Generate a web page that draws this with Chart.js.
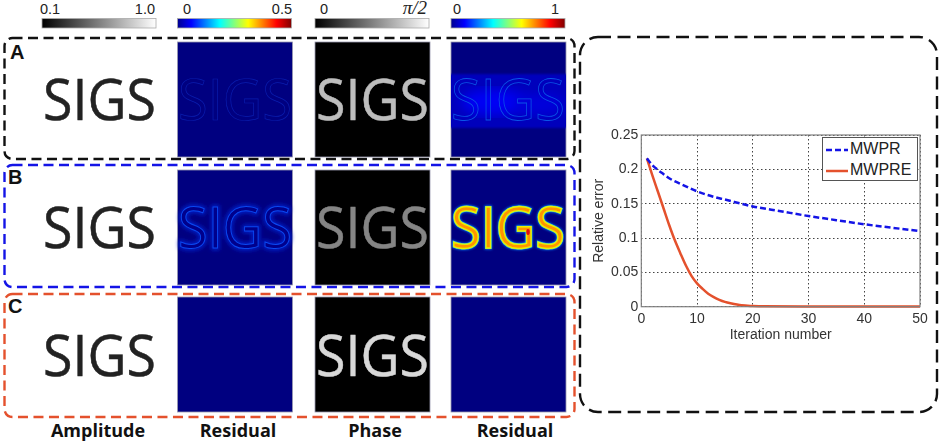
<!DOCTYPE html>
<html lang="en">
<head>
<meta charset="UTF-8">
<title>MWPR vs MWPRE</title>
<script src="https://cdn.jsdelivr.net/npm/chart.js"></script>
<style>
    html, body { margin: 0; padding: 0; background: #fff; overflow: hidden; }
    #figure { position: absolute; left: 0; top: 0; width: 941px; height: 444px; }
    #chart { position: absolute; left: 580px; top: 110px; }
    #legend {
        position: absolute; left: 822px; top: 137px; width: 94px; height: 42px;
        border: 1px solid #555; background: #fff; color: #222;
        font: 16px "Liberation Sans", sans-serif;
    }
    #legend div { height: 21px; line-height: 21px; white-space: nowrap; }
    #legend svg { vertical-align: middle; margin: 0 2px 0 3px; }
</style>
</head>
<body>
<svg id="figure" xmlns="http://www.w3.org/2000/svg" width="941" height="444">
    <defs>
        <linearGradient id="gray"><stop offset="0" stop-color="#000"/><stop offset="1" stop-color="#fff"/></linearGradient>
        <linearGradient id="jet">
            <stop offset="0" stop-color="#00008f"/><stop offset="0.12" stop-color="#0000ff"/>
            <stop offset="0.37" stop-color="#00ffff"/><stop offset="0.62" stop-color="#ffff00"/>
            <stop offset="0.87" stop-color="#ff0000"/><stop offset="1" stop-color="#800000"/>
        </linearGradient>
        <filter id="blur1"><feGaussianBlur stdDeviation="1.2"/></filter>
        <filter id="blur2"><feGaussianBlur stdDeviation="2"/></filter>
        <filter id="blur6"><feGaussianBlur stdDeviation="6"/></filter>
    </defs>
</svg>
<canvas id="chart" width="361" height="240"></canvas>
<div id="legend"></div>

<script>
// line chart data
const mwprIter = [1, 2, 3, 4, 5, 7, 10, 13, 15, 20, 25, 30, 35, 40, 45, 50];
const mwprError = [0.216, 0.206, 0.199, 0.193, 0.187, 0.179, 0.168, 0.16, 0.156, 0.146, 0.139, 0.132, 0.126, 0.12, 0.115, 0.11];
const mwpreIter = [1, 2, 3, 4, 5, 6, 7, 8, 9, 10, 11, 12, 13, 14, 15, 16, 18, 20, 22, 30, 50];
const mwpreError = [0.216, 0.191, 0.167, 0.143, 0.119, 0.097, 0.078, 0.06, 0.045, 0.034, 0.026, 0.019, 0.014, 0.01, 0.007, 0.005, 0.002, 0.001, 0.0005, 0.0003, 0.0002];
const xTicks = [0, 10, 20, 30, 40, 50];
const yTickLabels = ['0', '0.05', '0.1', '0.15', '0.2', '0.25'];
const seriesNames = ['MWPR', 'MWPRE'];

// the figure panels around the chart
const columnLabels = ['Amplitude', 'Residual', 'Phase', 'Residual'];
const panelLetters = ['A', 'B', 'C'];
const colorbarLow = ['0.1', '0', '0', '0'];
const colorbarHigh = ['1.0', '0.5', 'π/2', '1'];

const BLUE = '#1414e6';
const RED = '#e4512d';
const NAVY = '#000080';
const colX = [42, 177.5, 315, 451];
const colW = 115;
const rowY = [42, 170, 297];
const rowH = 115;
const wordBase = [120, 248, 376];
const wordX = [43, 178, 316, 451];
const wordW = [113, 114, 113, 114];

const fig = document.getElementById('figure');
let s = '';

function frame(x, y, w, h, r, color, dash) {
    return `<rect x="${x}" y="${y}" width="${w}" height="${h}" rx="${r}" fill="none" stroke="${color}" stroke-width="2.4" stroke-dasharray="${dash}"/>`;
}

// SIGS word, squeezed to fit a column like in the figure
function sigs(col, row, style) {
    return `<text x="${wordX[col]}" y="${wordBase[row]}" textLength="${wordW[col]}" lengthAdjust="spacingAndGlyphs" font-family="Open Sans" font-size="57.5" ${style}>SIGS</text>`;
}

function cell(col, row, color) {
    return `<rect x="${colX[col]}" y="${rowY[row]}" width="${colW}" height="${rowH}" fill="${color}" stroke="#9a9ab0" stroke-width="0.8"/>`;
}

// colour bars on top
const lowX = [40, 183, 320, 453];
const highX = [155, 292, 427, 559];
colX.forEach((x, i) => {
    const grad = i % 2 === 0 ? 'gray' : 'jet';
    s += `<rect x="${x}" y="18.5" width="${colW - 1}" height="9.5" fill="url(#${grad})" stroke="#aaa" stroke-width="0.8"/>`;
    s += `<text x="${lowX[i]}" y="14" font-family="Liberation Sans" font-size="14.5" fill="#222">${colorbarLow[i]}</text>`;
    const hiFont = colorbarHigh[i] === 'π/2' ? 'font-family="Liberation Serif" font-style="italic" font-size="19"' : 'font-family="Liberation Sans" font-size="14.5"';
    s += `<text x="${highX[i]}" y="14" text-anchor="end" ${hiFont} fill="#222">${colorbarHigh[i]}</text>`;
});

// dashed boxes
s += frame(4.5, 38, 570, 121, 8, '#111', '10 5.5');
s += frame(4.5, 165, 570, 122, 8, BLUE, '10 5.5');
s += frame(4.5, 294, 570, 123, 8, RED, '10 5.5');
s += frame(580, 37, 357, 375, 18, '#111', '13 6.5');

// row letters
panelLetters.forEach((l, i) => {
    s += `<text x="${i === 0 ? 10 : 8}" y="${[59, 184, 313][i]}" font-family="Liberation Sans" font-weight="bold" font-size="20" fill="#111">${l}</text>`;
});

// amplitude column
rowY.forEach((y, r) => { s += sigs(0, r, 'fill="#222" stroke="#222" stroke-width="0.5"'); });

// residual column 2
s += cell(1, 0, NAVY) + sigs(1, 0, 'fill="none" stroke="#0a1eb0" stroke-width="0.7"');
s += cell(1, 1, NAVY) + sigs(1, 1, 'fill="none" stroke="#0022cc" stroke-width="4" filter="url(#blur2)"')
   + sigs(1, 1, 'fill="#00008c" stroke="#0a48f0" stroke-width="1"');
s += cell(1, 2, NAVY);

// phase column
const phaseGrey = ['#bdbdbd', '#858585', '#d8d8d8'];
rowY.forEach((y, r) => { s += cell(2, r, '#000') + sigs(2, r, `fill="${phaseGrey[r]}" stroke="${phaseGrey[r]}" stroke-width="0.5"`); });

// residual column 4
s += cell(3, 0, NAVY);
s += `<clipPath id="c4"><rect x="${colX[3]}" y="${rowY[0]}" width="${colW}" height="${rowH}"/></clipPath>`;
s += `<g clip-path="url(#c4)"><rect x="${colX[3] - 10}" y="74" width="${colW + 20}" height="54" rx="10" fill="#0000bc" filter="url(#blur1)"/>`;
s += `<ellipse cx="${colX[3] + 42}" cy="102" rx="32" ry="13" fill="#0000f5" filter="url(#blur6)"/>`;
s += `<ellipse cx="${colX[3] + 88}" cy="104" rx="26" ry="11" fill="#0000dc" filter="url(#blur6)"/></g>`;
s += sigs(3, 0, 'fill="none" stroke="#0a55e8" stroke-width="0.8"');
s += cell(3, 1, NAVY) + sigs(3, 1, 'fill="none" stroke="#1070f0" stroke-width="3" filter="url(#blur1)"')
   + sigs(3, 1, 'fill="none" stroke="#30d0d0" stroke-width="2.2"')
   + sigs(3, 1, 'fill="#ff9400" stroke="#e8f000" stroke-width="1.4"');
s += `<ellipse cx="528" cy="232" rx="1.8" ry="3" fill="#e01010"/>`;
s += cell(3, 2, NAVY);

// column captions
const captionX = [98, 238, 375, 515];
columnLabels.forEach((t, i) => {
    s += `<text x="${captionX[i]}" y="437" text-anchor="middle" font-family="Open Sans" font-weight="bold" font-size="18" fill="#111">${t}</text>`;
});
fig.insertAdjacentHTML('beforeend', s);

// box round the plot like matlab draws it
const plotBox = {
    id: 'plotBox',
    afterDraw(chart) {
        const a = chart.chartArea, c = chart.ctx;
        c.save();
        c.strokeStyle = '#808080';
        c.lineWidth = 1.2;
        c.strokeRect(a.left, a.top, a.right - a.left, a.bottom - a.top);
        c.restore();
    }
};

const tickFont = { family: 'Liberation Sans', size: 14 };

const chart = new Chart(document.getElementById('chart').getContext('2d'), {
    type: 'line',
    data: {
        datasets: [{
            label: seriesNames[0],
            data: mwprIter.map((x, i) => ({ x: x, y: mwprError[i] })),
            borderColor: BLUE,
            borderWidth: 2.5,
            borderDash: [6, 3],
            pointRadius: 0,
            cubicInterpolationMode: 'monotone',
            clip: 4
        }, {
            label: seriesNames[1],
            data: mwpreIter.map((x, i) => ({ x: x, y: mwpreError[i] })),
            borderColor: RED,
            borderWidth: 2.5,
            pointRadius: 0,
            cubicInterpolationMode: 'monotone',
            clip: 4
        }]
    },
    options: {
        responsive: false,
        animation: false,
        layout: { padding: { top: 25, right: 21 } },
        plugins: { legend: { display: false }, tooltip: { enabled: false } },
        scales: {
            x: {
                type: 'linear',
                min: 0,
                max: 50,
                afterFit: (scale) => { scale.height = 43.3; },
                afterBuildTicks: (scale) => { scale.ticks = xTicks.map(v => ({ value: v })); },
                border: { display: false, dash: [1.5, 2.5] },
                grid: { color: '#444', lineWidth: 1, drawTicks: false },
                ticks: { font: tickFont, color: '#333', padding: 4, maxRotation: 0 },
                title: { display: true, text: 'Iteration number', font: tickFont, color: '#333', padding: { top: 0, bottom: 6 } }
            },
            y: {
                min: 0,
                max: 0.25,
                afterFit: (scale) => { scale.width = 61.3; },
                border: { display: false, dash: [1.5, 2.5] },
                grid: { color: '#444', lineWidth: 1, drawTicks: false },
                ticks: {
                    font: tickFont,
                    color: '#333',
                    padding: 3,
                    stepSize: 0.05,
                    callback: (v, i) => yTickLabels[i]
                },
                title: { display: true, text: 'Relative error', font: tickFont, color: '#333', padding: { top: 11, bottom: 0 } }
            }
        }
    },
    plugins: [plotBox]
});

// legend from the chart datasets
document.getElementById('legend').innerHTML = chart.data.datasets.map(d => {
    const dash = d.borderDash ? d.borderDash.join(' ') : 'none';
    return `<div><svg width="22" height="4"><line x1="0" y1="2" x2="22" y2="2" stroke="${d.borderColor}" stroke-width="2.5" stroke-dasharray="${dash}"/></svg>${d.label}</div>`;
}).join('');
</script>
</body>
</html>
